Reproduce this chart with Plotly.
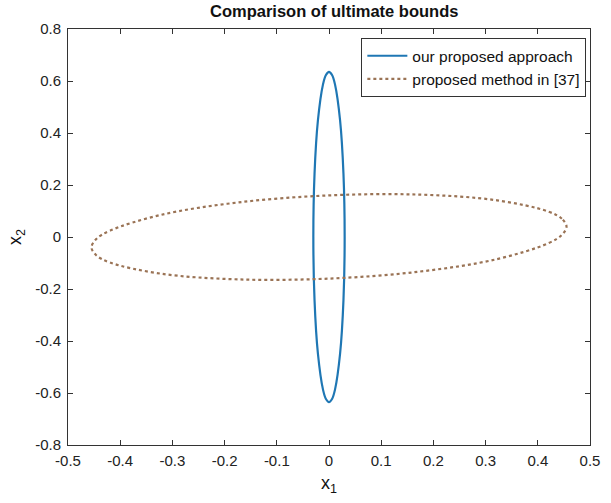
import plotly.graph_objects as go

# Points (x1, x2)
ours_x = [0.030, 0.0277, 0.0212, 0.0115, 0.00585, 0.0, -0.00585, -0.0115, -0.0212, -0.0277, -0.030,
          -0.0277, -0.0212, -0.0115, -0.00585, 0.0, 0.00585, 0.0115, 0.0212, 0.0277, 0.030]
ours_y = [0.0, 0.243, 0.449, 0.587, 0.623, 0.635, 0.623, 0.587, 0.449, 0.243, 0.0,
          -0.243, -0.449, -0.587, -0.623, -0.635, -0.623, -0.587, -0.449, -0.243, 0.0]

ref_x = [0.455, 0.446, 0.420, 0.322, 0.174, 0.0, -0.174, -0.322, -0.420, -0.446, -0.455,
         -0.446, -0.420, -0.322, -0.174, 0.0, 0.174, 0.322, 0.420, 0.446, 0.455]
ref_y = [0.040, 0.070, 0.098, 0.141, 0.163, 0.160, 0.133, 0.085, 0.024, -0.008, -0.040,
         -0.070, -0.098, -0.141, -0.163, -0.160, -0.133, -0.085, -0.024, 0.008, 0.040]

x_ticks = [-0.5, -0.4, -0.3, -0.2, -0.1, 0, 0.1, 0.2, 0.3, 0.4, 0.5]
y_ticks = [-0.8, -0.6, -0.4, -0.2, 0, 0.2, 0.4, 0.6, 0.8]

fig = go.Figure()
fig.add_trace(go.Scatter(x=ours_x, y=ours_y, mode="lines", name="our proposed approach",
                         line=dict(color="#1f77b4", width=2.2, shape="spline", smoothing=1.0)))
fig.add_trace(go.Scatter(x=ref_x, y=ref_y, mode="lines", name="proposed method in [37]",
                         line=dict(color="#9a7355", width=2.2, dash="dot", shape="spline", smoothing=1.0)))

axis_common = dict(showline=True, linecolor="#333333", linewidth=1, mirror="ticks",
                   ticks="inside", ticklen=5, tickcolor="#333333", showgrid=False,
                   zeroline=False, tickfont=dict(size=15, color="#222222"),
                   ticklabeloverflow="allow")

fig.update_layout(
    width=611, height=503,
    margin=dict(l=68, r=11, t=29, b=58),
    paper_bgcolor="white", plot_bgcolor="white",
    font=dict(family="Liberation Sans, Arial, sans-serif", color="#111111"),
    title=dict(text="<b>Comparison of ultimate bounds</b>", x=0.547, xanchor="center",
               y=0.99, yanchor="top", font=dict(size=16.5, color="#111111")),
    xaxis=dict(range=[-0.5, 0.5], tickvals=x_ticks,
               ticktext=[f"{v:g}" for v in x_ticks], ticklabelstandoff=2,
               title=dict(text="x<sub>1</sub>", font=dict(size=18), standoff=8), **axis_common),
    yaxis=dict(range=[-0.8, 0.8], tickvals=y_ticks,
               ticktext=[f"{v:g}" for v in y_ticks], ticklabelstandoff=3,
               title=dict(text="x<sub>2</sub>", font=dict(size=18), standoff=8), **axis_common),
    legend=dict(x=0.993, y=0.978, xanchor="right", yanchor="top",
                bgcolor="white", bordercolor="#333333", borderwidth=1,
                font=dict(size=15.5, color="#111111"), tracegroupgap=0, itemwidth=40),
    showlegend=True,
)

fig.write_html("out.html")
